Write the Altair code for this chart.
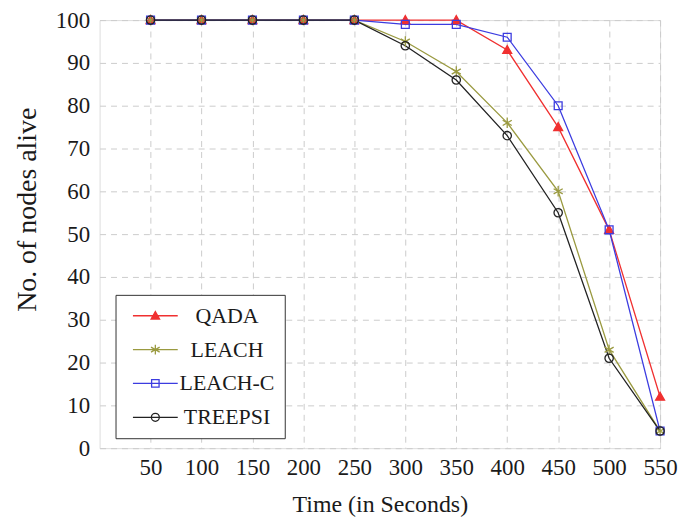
import altair as alt
import pandas as pd

time = [50, 100, 150, 200, 250, 300, 350, 400, 450, 500, 550]
qada = [100, 100, 100, 100, 100, 100, 100, 93, 75, 51, 12]
leach = [100, 100, 100, 100, 100, 95, 88, 76, 60, 23, 4]
leach_c = [100, 100, 100, 100, 100, 99, 99, 96, 80, 51, 4]
treepsi = [100, 100, 100, 100, 100, 94, 86, 73, 55, 21, 4]

series = ["QADA", "LEACH", "LEACH-C", "TREEPSI"]
colors = ["#f03030", "#9a9a40", "#3c3ce0", "#222222"]
fills = ["#f03030", "#9a9a40", "transparent", "transparent"]

tri = "M0,-0.85L0.85,0.65L-0.85,0.65Z"
star = "M0,-1V1M-0.87,-0.5L0.87,0.5M-0.87,0.5L0.87,-0.5"
sq = "M-0.75,-0.75H0.75V0.75H-0.75Z"
circ = "M0.8,0A0.8,0.8,0,1,1,-0.8,0A0.8,0.8,0,1,1,0.8,0Z"
shapes = [tri, star, sq, circ]
line_seg = "M-4.5,0H4.5"
legend_shapes = [line_seg + s for s in shapes]

rows = []
for name, vals in zip(series, [qada, leach, leach_c, treepsi]):
    for t, v in zip(time, vals):
        rows.append({"Time": t, "Alive": v, "Series": name})
df = pd.DataFrame(rows)

font = "Liberation Serif"
txt = "#1a1a1a"

x = alt.X("Time:Q", scale=alt.Scale(domain=[0, 550], nice=False),
          axis=alt.Axis(values=time, title="Time (in Seconds)", ticks=False,
                        labelFontSize=23, titleFontSize=24, labelPadding=8,
                        titlePadding=14, gridDash=[6, 5], gridColor="#cccccc",
                        domain=False, labelFont=font, titleFont=font, labelFlush=False,
                        labelColor=txt, titleColor=txt, titleFontWeight="normal"))
y = alt.Y("Alive:Q", scale=alt.Scale(domain=[0, 100], nice=False),
          axis=alt.Axis(values=list(range(0, 101, 10)), title="No. of nodes alive",
                        ticks=False, labelFontSize=23, titleFontSize=28, labelPadding=10,
                        titlePadding=14, titleY=190, gridDash=[6, 5], gridColor="#cccccc",
                        domain=False, labelFont=font, titleFont=font, labelFlush=False,
                        labelColor=txt, titleColor=txt, titleFontWeight="normal"))

layers = []
for name, col in zip(series, colors):
    layers.append(
        alt.Chart(df).transform_filter(alt.datum.Series == name)
        .mark_line(strokeWidth=1.3, stroke=col).encode(x=x, y=y)
    )
for name, shp, fl, col in zip(series, shapes, fills, colors):
    layers.append(
        alt.Chart(df).transform_filter(alt.datum.Series == name).mark_point(
            shape=shp, size=110, strokeWidth=1.3, filled=False, fill=fl, stroke=col, opacity=1
        ).encode(x=x, y=y)
    )

leg = alt.Legend(title=None, orient="none", legendX=16, legendY=276,
                 labelFontSize=22, labelFont=font, labelColor=txt,
                 labelAlign="center",
                 symbolSize=100, symbolStrokeWidth=1.3, symbolOpacity=1,
                 rowPadding=12, labelOffset=61, padding=10,
                 strokeColor="#333", fillColor="white",
                 symbolOffset=19, labelLimit=200)

legend_layer = alt.Chart(df).mark_point(size=64, strokeWidth=1.3, opacity=0).encode(
    x=x, y=y,
    color=alt.Color("Series:N", scale=alt.Scale(domain=series, range=colors), legend=leg),
    shape=alt.Shape("Series:N", scale=alt.Scale(domain=series, range=legend_shapes), legend=leg),
    fill=alt.Fill("Series:N", scale=alt.Scale(domain=series, range=fills), legend=leg),
)
layers.append(legend_layer)

chart = alt.layer(*layers).properties(
    width=563, height=430,
    padding={"left": 5, "top": 0, "right": 0, "bottom": 0},
).configure_view(stroke="#333", strokeWidth=1.5).configure(background="white")

chart.save("out.html", embed_options={"renderer": "svg", "actions": False})
